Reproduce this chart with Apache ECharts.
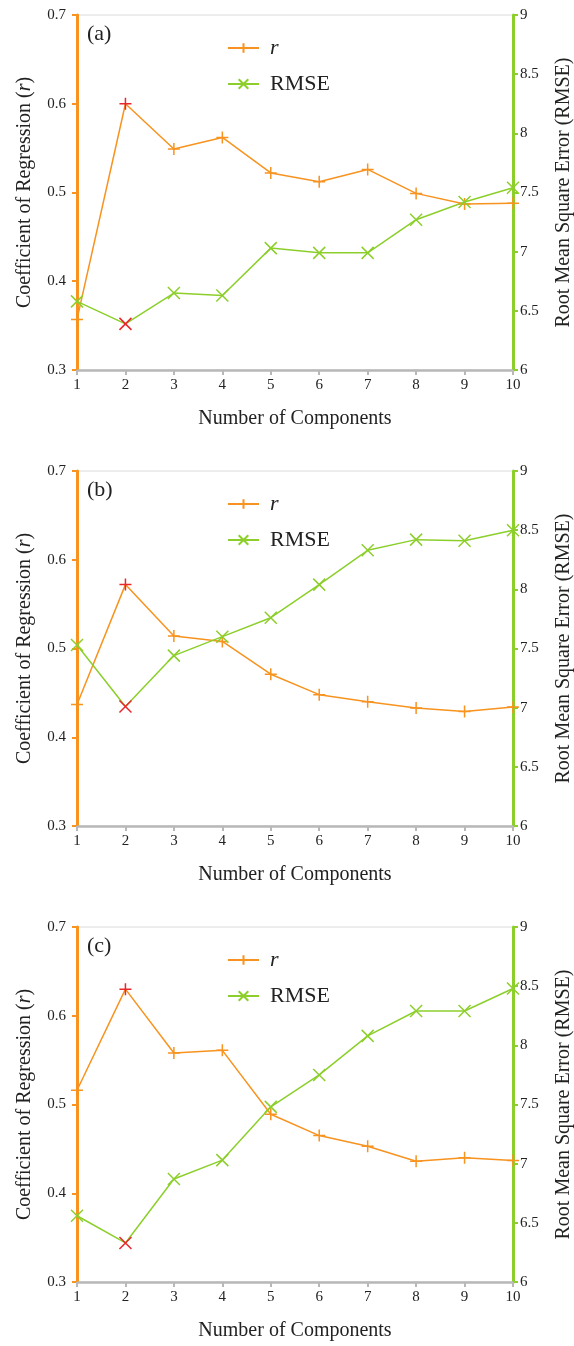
<!DOCTYPE html>
<html>
<head>
<meta charset="utf-8">
<script src="https://cdn.jsdelivr.net/npm/echarts@6/dist/echarts.min.js"></script>
<style>
  html, body { margin: 0; padding: 0; background: #fff; }
  #chart { width: 574px; height: 1346px; }
</style>
</head>
<body>
<div id="chart"></div>
<script>
// number of components on the x axis
var components = [1, 2, 3, 4, 5, 6, 7, 8, 9, 10];
var panelLabels = ['(a)', '(b)', '(c)'];

// coefficient of regression r, per panel
var rA = [0.357, 0.600, 0.549, 0.562, 0.522, 0.512, 0.526, 0.499, 0.487, 0.488];
var rB = [0.437, 0.572, 0.514, 0.508, 0.471, 0.448, 0.440, 0.433, 0.429, 0.434];
var rC = [0.516, 0.630, 0.558, 0.561, 0.489, 0.465, 0.453, 0.436, 0.440, 0.437];

// root mean square error, per panel
var rmseA = [6.58, 6.39, 6.65, 6.63, 7.03, 6.99, 6.99, 7.27, 7.42, 7.54];
var rmseB = [7.53, 7.01, 7.44, 7.60, 7.76, 8.04, 8.33, 8.42, 8.41, 8.50];
var rmseC = [6.56, 6.33, 6.87, 7.03, 7.48, 7.75, 8.08, 8.29, 8.29, 8.48];

var bestIndex = 1; // the 2-component model is highlighted in red

var ORANGE = '#f7931e';
var GREEN = '#8ccf2b';
var RED = '#e8262b';
var FONT = '"Liberation Serif", "DejaVu Serif", serif';

var PLUS = 'path://M0,6L12,6M6,0L6,12';
var CROSS = 'path://M0,0L12,12M12,0L0,12';

var rSets = [rA, rB, rC];
var rmseSets = [rmseA, rmseB, rmseC];
var tops = [15, 471, 927];

function pairs(vals) {
    return vals.map(function (v, i) {
        var item = { value: [components[i], v] };
        if (i === bestIndex) {
            item.itemStyle = { color: RED, borderColor: RED };
        }
        return item;
    });
}

var option = {
    backgroundColor: '#fff',
    animation: false,
    textStyle: { fontFamily: FONT, color: '#222' },
    title: [],
    legend: [],
    grid: [],
    xAxis: [],
    yAxis: [],
    series: []
};

tops.forEach(function (top, p) {
    option.grid.push({
        left: 77, right: 61, top: top, height: 355,
        outerBoundsMode: 'none', containLabel: false,
        show: true, borderColor: '#dcdcdc', borderWidth: 1, backgroundColor: 'transparent'
    });
    option.title.push({
        text: panelLabels[p],
        left: 82, top: top + 3,
        textStyle: { fontFamily: FONT, fontWeight: 'normal', fontSize: 22, color: '#222' }
    });
    option.legend.push({
        data: ['r', 'RMSE'],
        orient: 'vertical',
        left: 222, top: top + 17,
        itemWidth: 31, itemHeight: 12, itemGap: 14,
        formatter: function (name) { return name === 'r' ? '{i|r}' : name; },
        textStyle: {
            fontFamily: FONT, fontSize: 22, color: '#222', padding: [0, 0, 0, 6],
            rich: { i: { fontFamily: FONT, fontSize: 22, fontStyle: 'italic', color: '#222' } }
        }
    });
    option.xAxis.push({
        type: 'value', gridIndex: p, min: 1, max: 10, interval: 1,
        name: 'Number of Components', nameLocation: 'middle', nameGap: 39,
        nameTextStyle: { fontFamily: FONT, fontSize: 20, color: '#222' },
        axisLine: { lineStyle: { color: '#b8b8b8', width: 2.5 } },
        axisTick: { show: true, length: 5, lineStyle: { color: '#b8b8b8', width: 2 } },
        axisLabel: { fontFamily: FONT, fontSize: 15, color: '#222', margin: 8 },
        splitLine: { show: false }
    });
    option.yAxis.push({
        type: 'value', gridIndex: p, position: 'left', min: 0.3, max: 0.7, interval: 0.1,
        name: '{a|Coefficient of Regression (}{i|r}{a|)}',
        nameLocation: 'middle', nameGap: 42, nameRotate: 90,
        nameTextStyle: {
            rich: {
                a: { fontFamily: FONT, fontSize: 20, color: '#222' },
                i: { fontFamily: FONT, fontSize: 20, fontStyle: 'italic', color: '#222' }
            }
        },
        axisLine: { show: true, lineStyle: { color: ORANGE, width: 3 } },
        axisTick: { show: true, length: 5, lineStyle: { color: ORANGE, width: 2 } },
        axisLabel: {
            fontFamily: FONT, fontSize: 15, color: '#222', margin: 11,
            formatter: function (v) { return v.toFixed(1); }
        },
        splitLine: { show: false }
    });
    option.yAxis.push({
        type: 'value', gridIndex: p, position: 'right', min: 6, max: 9, interval: 0.5,
        name: 'Root Mean Square Error (RMSE)',
        nameLocation: 'middle', nameGap: 41, nameRotate: 90,
        nameTextStyle: { fontFamily: FONT, fontSize: 20, color: '#222' },
        axisLine: { show: true, lineStyle: { color: GREEN, width: 3 } },
        axisTick: { show: true, length: 5, lineStyle: { color: GREEN, width: 2 } },
        axisLabel: { fontFamily: FONT, fontSize: 15, color: '#222', margin: 7 },
        splitLine: { show: false }
    });

    option.series.push({
        name: 'r', type: 'line',
        xAxisIndex: p, yAxisIndex: p * 2,
        data: pairs(rSets[p]),
        symbol: PLUS, symbolSize: 12, showAllSymbol: true,
        lineStyle: { color: ORANGE, width: 1.5 },
        itemStyle: { color: 'none', borderColor: ORANGE, borderWidth: 1.5 },
        z: 3
    });
    option.series.push({
        name: 'RMSE', type: 'line',
        xAxisIndex: p, yAxisIndex: p * 2 + 1,
        data: pairs(rmseSets[p]),
        symbol: CROSS, symbolSize: 12, showAllSymbol: true,
        lineStyle: { color: GREEN, width: 1.5 },
        itemStyle: { color: 'none', borderColor: GREEN, borderWidth: 1.5 },
        z: 3
    });
});

echarts.init(document.getElementById('chart')).setOption(option);
</script>
</body>
</html>
